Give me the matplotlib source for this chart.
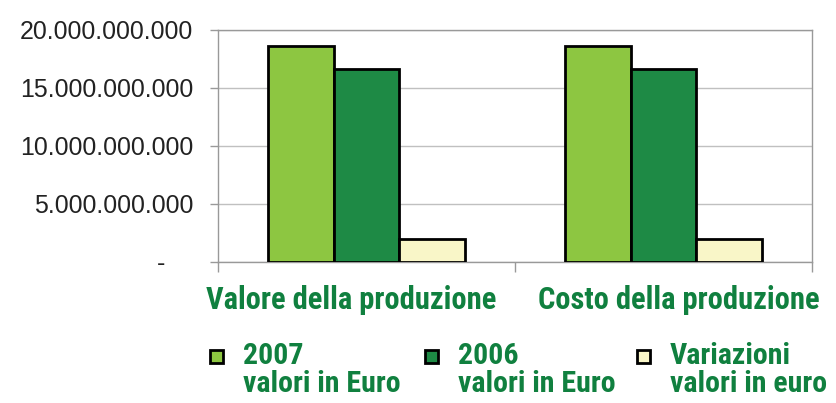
import matplotlib.pyplot as plt
from matplotlib.ticker import FixedLocator, FuncFormatter
from matplotlib.patches import Rectangle
import numpy as np

categories = ['Valore della produzione', 'Costo della produzione']
serie_2007 = [18.65e9, 18.6e9]
serie_2006 = [16.65e9, 16.62e9]
variazioni = [2.0e9, 1.98e9]
series_labels = ['2007\nvalori in Euro', '2006\nvalori in Euro', 'Variazioni\nvalori in euro']
series_colors = ['#8dc641', '#1e8a45', '#f9f6c8']
y_ticks = [0, 5e9, 10e9, 15e9, 20e9]

text_green = '#10803f'
narrow = ['Roboto Condensed', 'Archivo Narrow', 'Asap Condensed', 'DejaVu Sans']

W, H = 836, 403
fig = plt.figure(figsize=(W / 100, H / 100), dpi=100)
ax = fig.add_axes([0.2608, 0.3499, 0.7105, 0.5757])

x = np.arange(len(categories))
w = 0.222
for i, (vals, col) in enumerate(zip([serie_2007, serie_2006, variazioni], series_colors)):
    ax.bar(x + (i - 1) * w, vals, width=w, color=col, edgecolor='black', linewidth=2, zorder=3)

ax.set_xlim(-0.5, 1.5)
ax.set_ylim(0, 20e9)

# y axis in Italian thousands format, zero shown as dash
def fmt(v, pos):
    if v == 0:
        return '-    '
    return f'{v:,.0f}'.replace(',', '.')

ax.yaxis.set_major_locator(FixedLocator(y_ticks))
ax.yaxis.set_major_formatter(FuncFormatter(fmt))
ax.tick_params(axis='y', length=6, width=1, color='#999999', labelsize=17.9, labelcolor='#222222', pad=12)
for lab in ax.get_yticklabels():
    lab.set_family('Liberation Sans')
ax.grid(axis='y', color='#c0c0c0', linewidth=1, zorder=0)

# category boundaries as ticks
ax.set_xticks([-0.5, 0.5, 1.5])
ax.set_xticklabels([])
ax.tick_params(axis='x', length=7, width=1, color='#999999')

for s in ax.spines.values():
    s.set_color('#999999')
    s.set_linewidth(1)

label_x = [-0.05, 1.05]
for cx, cat in zip(label_x, categories):
    ax.text(cx, -0.165, cat, transform=ax.get_xaxis_transform(), ha='center', va='center',
            color=text_green, fontsize=22, fontweight='bold', family=narrow)

# legend drawn by hand: swatch beside the first line of each two-line label
sw_x = [210, 425, 637]
for sx, col, lab in zip(sw_x, series_colors, series_labels):
    fig.patches.append(Rectangle((sx / W, 1 - 363 / H), 13 / W, 13 / H, transform=fig.transFigure,
                                 facecolor=col, edgecolor='black', linewidth=2))
    fig.text((sx + 33) / W, 1 - 342 / H, lab, ha='left', va='top', color=text_green,
             fontsize=21.5, fontweight='bold', family=narrow, linespacing=1.0)

fig.savefig('out.png', dpi=100)
